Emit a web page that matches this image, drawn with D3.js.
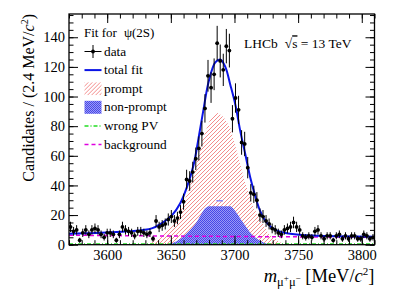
<!DOCTYPE html>
<html>
<head>
<meta charset="utf-8">
<script src="https://cdn.jsdelivr.net/npm/d3@7"></script>
<style>
  body { margin: 0; background: #fff; }
  svg { display: block; }
</style>
</head>
<body>
<script>
// data counts per 2.4 MeV bin, first bin starts at 3570
const binStart = 3570;
const binWidth = 2.4;
const counts = [12, 9, 10, 3, 8, 10, 7, 10, 11, 10,
  7, 5, 8, 8, 7, 3, 7, 12, 10, 9,
  8, 6, 9, 9, 8, 7, 8, 4, 16, 12,
  13, 14, 17, 19, 16, 18, 22, 29, 44, 43,
  49, 58, 65, 75, 92, 114, 106, 115, 136, 124,
  118, 134, 131, 85, 99, 91, 69, 68, 52, 35,
  34, 30, 20, 19, 16, 14, 11, 10, 8, 7,
  10, 11, 12, 15, 12, 10, 6, 5, 6, 5,
  9, 10, 6, 4, 6, 6, 3, 6, 7, 4,
  6, 4, 6, 6, 4, 4, 7, 6, 4, 5];
const errors = [3.5, 3, 3.2, 1.7, 2.8, 3.2, 2.6, 3.2, 3.3, 3.2,
  2.6, 2.2, 2.8, 2.8, 2.6, 1.7, 2.6, 3.5, 3.2, 3,
  2.8, 2.4, 3, 3, 2.8, 2.6, 2.8, 2, 4, 3.5,
  3.6, 3.7, 4.1, 4.4, 4, 4.2, 4.7, 5.4, 6.6, 6.6,
  7, 7.6, 8.1, 8.7, 9.6, 10.7, 10.3, 10.7, 11.7, 11.1,
  10.9, 11.6, 11.4, 9.2, 9.9, 9.5, 8.3, 8.2, 7.2, 5.9,
  5.8, 5.5, 4.5, 4.4, 4, 3.7, 3.3, 3.2, 2.8, 2.6,
  3.2, 3.3, 3.5, 3.9, 3.5, 3.2, 2.4, 2.2, 2.4, 2.2,
  3, 3.2, 2.4, 2, 2.4, 2.4, 1.7, 2.4, 2.6, 2,
  2.4, 2, 2.4, 2.4, 2, 2, 2.6, 2.4, 2, 2.2];

// total fit
const fitMass = [3570, 3600, 3617, 3635, 3643, 3651, 3657.4, 3662.7, 3667.9, 3671.8, 3675.8, 3679.7,
  3684.9, 3688.9, 3692.8, 3696.7, 3700.7, 3704.6, 3708.5, 3712.5, 3716.4, 3720.3, 3725.6,
  3732.1, 3740, 3753, 3774, 3810];
const fitVal = [7.4, 8.2, 9, 11, 14.6, 20, 28, 39, 54, 72, 92, 110,
  123, 125, 120, 108, 94.5, 76.5, 61, 45, 32.6, 22.5, 14.6,
  10, 7.9, 6.5, 5.8, 5.4];

// prompt component
const promptMass = [3632.6, 3643, 3650.9, 3658.8, 3667.9, 3674.5, 3681, 3687, 3691.5, 3696.7, 3703.3, 3708, 3715.1, 3726.9, 3738.7];
const promptVal = [0, 6.5, 14, 25, 47, 70, 85, 89, 86, 79, 58.5, 43, 25, 7, 0];

// non-prompt component
const npMass = [3648.5, 3653.7, 3661.6, 3670.7, 3677.2, 3679.8, 3696.8, 3698.6, 3706, 3713.8, 3724.3, 3732.1];
const npVal = [0, 2, 6.8, 15.8, 24.7, 26, 26, 24.7, 15.8, 6.8, 1, 0];
const npTopMass = [3685.8, 3691];
const npTopVal = [29.7, 29.7];

// background and wrong PV
const bkgMass = [3570, 3690, 3810];
const bkgVal = [6.4, 5.6, 5.0];
const wpvMass = [3570, 3810];
const wpvVal = [0.4, 0.4];

const xMajor = [3600, 3650, 3700, 3750, 3800];
const xMinor = d3.range(3570, 3811, 10);
const yMajor = [0, 20, 40, 60, 80, 100, 120, 140];
const yMinor = d3.range(0, 156, 5);

const legendLabels = ["data", "total fit", "prompt", "non-prompt", "wrong PV", "background"];

const W = 407, H = 292;
const pLeft = 69, pRight = 374.5, pTop = 14, pBottom = 244.7;
const serif = "'Liberation Serif', 'Times New Roman', Times, serif";
const hatchColor = "#f27f7f";

const svg = d3.select("body").append("svg").attr("width", W).attr("height", H)
  .style("font-family", serif);

const x = d3.scaleLinear().domain([3570, 3810]).range([pLeft, pRight]);
const y = d3.scaleLinear().domain([0, 155.7]).range([pBottom, pTop]);

const area = d3.area().x(d => x(d[0])).y0(y(0)).y1(d => y(d[1]));
const line = d3.line().x(d => x(d[0])).y(d => y(d[1]));

const defs = svg.append("defs");
defs.append("clipPath").attr("id", "clip")
  .append("rect").attr("x", pLeft).attr("y", pTop).attr("width", pRight - pLeft).attr("height", pBottom - pTop);
defs.append("clipPath").attr("id", "promptClip")
  .append("path").attr("d", area(d3.zip(promptMass, promptVal)));
defs.append("clipPath").attr("id", "legHatchClip")
  .append("rect").attr("x", 84.5).attr("y", 51.5 + 2 * 18.6 - 6.5).attr("width", 17).attr("height", 13);

//dither for non-prompt
const dots = defs.append("pattern").attr("id", "dots")
  .attr("patternUnits", "userSpaceOnUse").attr("width", 2).attr("height", 2);
dots.append("rect").attr("width", 2).attr("height", 2).attr("fill", "#9a9af7");
dots.append("rect").attr("width", 1).attr("height", 1).attr("fill", "#4848e6");
dots.append("rect").attr("x", 1).attr("y", 1).attr("width", 1).attr("height", 1).attr("fill", "#4848e6");

//diagonal hatch lines drawn inside a clip
function hatchLines(g, x0, x1, y0, y1) {
  const step = 4;
  const span = y1 - y0;
  g.selectAll("line").data(d3.range(x0 - span, x1, step)).enter().append("line")
    .attr("x1", d => d).attr("y1", y1)
    .attr("x2", d => d + span).attr("y2", y0)
    .attr("stroke", hatchColor).attr("stroke-width", 0.9);
}

const plot = svg.append("g").attr("clip-path", "url(#clip)");

hatchLines(plot.append("g").attr("clip-path", "url(#promptClip)"), pLeft, pRight, pTop, pBottom);

plot.append("path")
  .datum(d3.zip(npMass, npVal))
  .attr("d", area.curve(d3.curveMonotoneX))
  .attr("fill", "url(#dots)");

plot.append("path")
  .datum(d3.zip(npTopMass, npTopVal))
  .attr("d", line)
  .attr("stroke", "#8a8af5").attr("stroke-width", 1.5).attr("fill", "none");

plot.append("path")
  .datum(d3.zip(wpvMass, wpvVal))
  .attr("d", line)
  .attr("stroke", "#22dd22").attr("stroke-width", 1.5).attr("fill", "none")
  .attr("stroke-dasharray", "4,2,1,2");

plot.append("path")
  .datum(d3.zip(bkgMass, bkgVal))
  .attr("d", line.curve(d3.curveMonotoneX))
  .attr("stroke", "#e000e0").attr("stroke-width", 1.5).attr("fill", "none")
  .attr("stroke-dasharray", "4,3");

plot.append("path")
  .datum(d3.zip(fitMass, fitVal))
  .attr("d", d3.line().x(d => x(d[0])).y(d => y(d[1])).curve(d3.curveCatmullRom.alpha(0.5)))
  .attr("stroke", "#0a14e6").attr("stroke-width", 2).attr("fill", "none");

//data points
const pts = counts.map((c, i) => ({ m: binStart + binWidth * (i + 0.5), v: c, e: errors[i] }));
const pg = plot.append("g").selectAll("g").data(pts).enter().append("g");
pg.append("line")
  .attr("x1", d => x(d.m)).attr("x2", d => x(d.m))
  .attr("y1", d => y(d.v - d.e)).attr("y2", d => y(d.v + d.e))
  .attr("stroke", "#000").attr("stroke-width", 1);
pg.append("line")
  .attr("x1", d => x(d.m - binWidth / 2)).attr("x2", d => x(d.m + binWidth / 2))
  .attr("y1", d => y(d.v)).attr("y2", d => y(d.v))
  .attr("stroke", "#000").attr("stroke-width", 1);
pg.append("circle")
  .attr("cx", d => x(d.m)).attr("cy", d => y(d.v)).attr("r", 1.9).attr("fill", "#000");

//axes
svg.append("g").attr("transform", `translate(0,${pBottom})`)
  .call(d3.axisBottom(x).tickValues(xMajor).tickSize(-9).tickPadding(5).tickFormat(d3.format("d")));
svg.append("g").attr("transform", `translate(0,${pBottom})`)
  .call(d3.axisBottom(x).tickValues(xMinor).tickSize(-4.5).tickFormat(""));
svg.append("g").attr("transform", `translate(0,${pTop})`)
  .call(d3.axisTop(x).tickValues(xMajor).tickSize(-9).tickFormat(""));
svg.append("g").attr("transform", `translate(0,${pTop})`)
  .call(d3.axisTop(x).tickValues(xMinor).tickSize(-4.5).tickFormat(""));

svg.append("g").attr("transform", `translate(${pLeft},0)`)
  .call(d3.axisLeft(y).tickValues(yMajor).tickSize(-9).tickPadding(4).tickFormat(d3.format("d")));
svg.append("g").attr("transform", `translate(${pLeft},0)`)
  .call(d3.axisLeft(y).tickValues(yMinor).tickSize(-4.5).tickFormat(""));
svg.append("g").attr("transform", `translate(${pRight},0)`)
  .call(d3.axisRight(y).tickValues(yMajor).tickSize(-9).tickFormat(""));
svg.append("g").attr("transform", `translate(${pRight},0)`)
  .call(d3.axisRight(y).tickValues(yMinor).tickSize(-4.5).tickFormat(""));

svg.selectAll(".domain").remove();
svg.selectAll(".tick line").attr("stroke", "#000").attr("stroke-width", 1);
svg.selectAll(".tick text").attr("font-family", serif).attr("font-size", "14.5px").attr("fill", "#000");

svg.append("rect").attr("x", pLeft).attr("y", pTop).attr("width", pRight - pLeft).attr("height", pBottom - pTop)
  .attr("fill", "none").attr("stroke", "#000").attr("stroke-width", 1.3);

//axis titles
const yt = svg.append("text")
  .attr("transform", `translate(34,${pTop}) rotate(-90)`)
  .attr("text-anchor", "end").attr("font-family", serif).attr("font-size", "16px");
yt.append("tspan").text("Candidates / (2.4 MeV/");
yt.append("tspan").attr("font-style", "italic").text("c");
yt.append("tspan").attr("font-size", "10px").attr("dy", -6).text("2");
yt.append("tspan").attr("dy", 6).text(")");

const xt = svg.append("text")
  .attr("x", pRight).attr("y", 282).attr("text-anchor", "end").attr("font-family", serif).attr("font-size", "18.5px");
xt.append("tspan").attr("font-style", "italic").text("m");
xt.append("tspan").attr("font-size", "12.5px").attr("dy", 4).text("μ");
xt.append("tspan").attr("font-size", "9px").attr("dy", -5).text("+");
xt.append("tspan").attr("font-size", "12.5px").attr("dy", 5).text("μ");
xt.append("tspan").attr("font-size", "9px").attr("dy", -5).text("−");
xt.append("tspan").attr("dy", 1).text(" [MeV/");
xt.append("tspan").attr("font-style", "italic").text("c");
xt.append("tspan").attr("font-size", "11px").attr("dy", -7).text("2");
xt.append("tspan").attr("dy", 7).text("]");

//labels
const lh = svg.append("text").attr("x", 244).attr("y", 48.3).attr("font-family", serif).attr("font-size", "13.5px");
lh.append("tspan").text("LHCb");
lh.append("tspan").attr("dx", 7).text("√");
lh.append("tspan").attr("text-decoration", "overline").text("s");
lh.append("tspan").text(" = 13 TeV");

const ff = svg.append("text").attr("x", 84).attr("y", 36.5).attr("font-family", serif).attr("font-size", "13px");
ff.append("tspan").text("Fit for");
ff.append("tspan").attr("dx", 7).text("ψ(2S)");

//legend
const lx0 = 84.5, lx1 = 101.5, ly0 = 51.5, lstep = 18.6;
const leg = svg.append("g");
leg.selectAll("text").data(legendLabels).enter().append("text")
  .attr("x", 104).attr("y", (d, i) => ly0 + i * lstep + 4)
  .attr("font-family", serif).attr("font-size", "13.3px").attr("fill", "#000").text(d => d);

leg.append("line").attr("x1", (lx0 + lx1) / 2).attr("x2", (lx0 + lx1) / 2).attr("y1", ly0 - 6.5).attr("y2", ly0 + 6.5).attr("stroke", "#000");
leg.append("line").attr("x1", lx0).attr("x2", lx1).attr("y1", ly0).attr("y2", ly0).attr("stroke", "#000");
leg.append("circle").attr("cx", (lx0 + lx1) / 2).attr("cy", ly0).attr("r", 1.9);
leg.append("line").attr("x1", lx0).attr("x2", lx1).attr("y1", ly0 + lstep).attr("y2", ly0 + lstep)
  .attr("stroke", "#0a14e6").attr("stroke-width", 2);
hatchLines(leg.append("g").attr("clip-path", "url(#legHatchClip)"), lx0, lx1, ly0 + 2 * lstep - 6.5, ly0 + 2 * lstep + 6.5);
leg.append("rect").attr("x", lx0).attr("y", ly0 + 3 * lstep - 6.5).attr("width", lx1 - lx0).attr("height", 13).attr("fill", "url(#dots)");
leg.append("line").attr("x1", lx0).attr("x2", lx1).attr("y1", ly0 + 4 * lstep).attr("y2", ly0 + 4 * lstep)
  .attr("stroke", "#22dd22").attr("stroke-width", 1.5).attr("stroke-dasharray", "4,2,1,2");
leg.append("line").attr("x1", lx0).attr("x2", lx1).attr("y1", ly0 + 5 * lstep).attr("y2", ly0 + 5 * lstep)
  .attr("stroke", "#e000e0").attr("stroke-width", 1.5).attr("stroke-dasharray", "4,3");
</script>
</body>
</html>
